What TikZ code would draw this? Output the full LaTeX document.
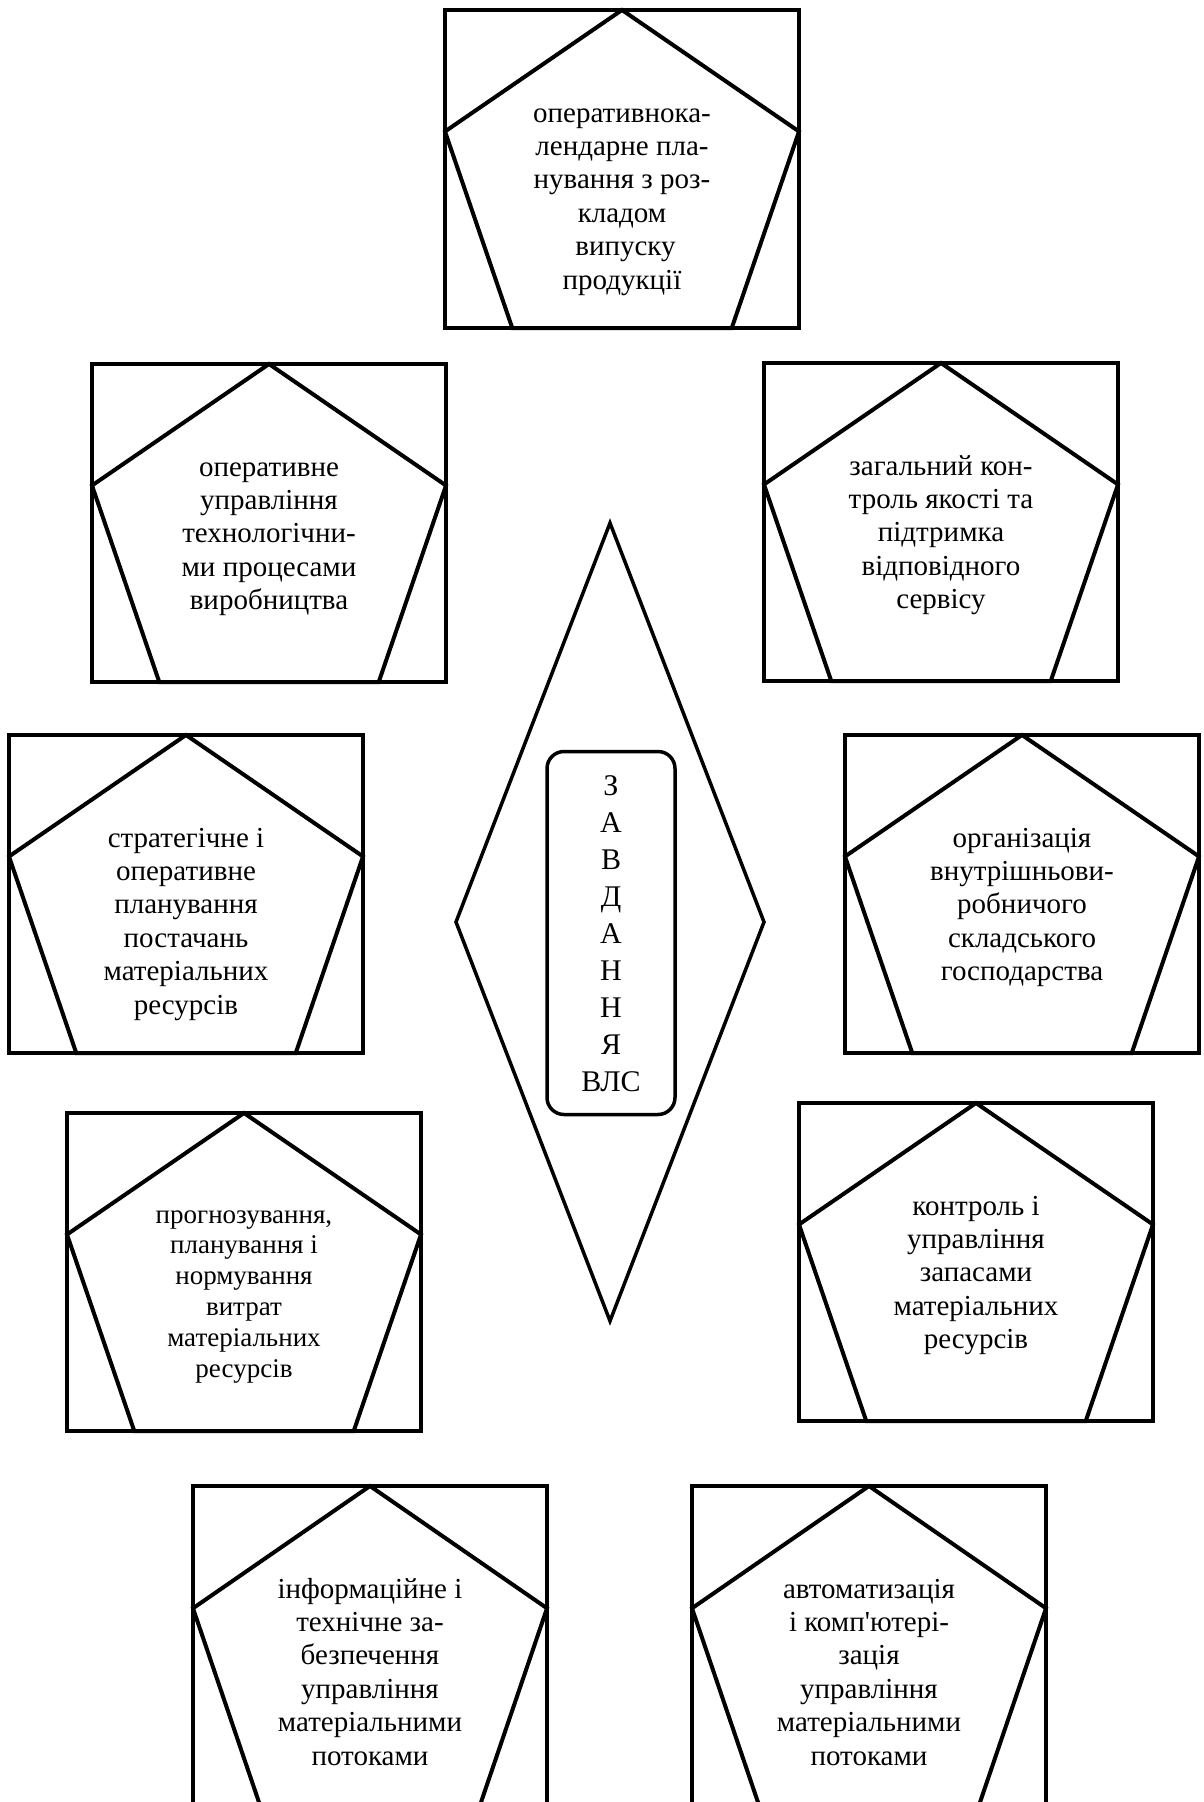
\documentclass[tikz,border=0pt]{standalone}
\usepackage{fontspec}
\setmainfont{Liberation Serif}[Ligatures=TeXOff]
\usetikzlibrary{shapes.geometric,calc}
\tikzset{
  x=1pt, y=-1pt,
  boxframe/.style={draw, line width=4pt, rectangle, inner sep=0pt, outer sep=0pt, minimum width=354pt, minimum height=318pt, anchor=north},
  pent/.style={line width=4pt, line join=miter},
  boxtext/.style={font=\fontsize{29}{33.4}\selectfont, align=center, inner sep=0pt, outer sep=0pt, anchor=north},
  smalltext/.style={font=\fontsize{27}{30.8}\selectfont},
  rhomb/.style={draw, diamond, line width=3.5pt, inner sep=0pt, outer sep=0pt, minimum width=308pt, minimum height=798pt},
  corebox/.style={draw, line width=3.5pt, rounded corners=17pt, rectangle, inner sep=0pt, outer sep=0pt, minimum width=128pt, minimum height=363pt},
  coretext/.style={font=\fontsize{30}{37.1}\selectfont, align=center, inner sep=0pt, outer sep=0pt, anchor=north},
}
% #1 name, #2 centre x, #3 top y, #4 height
\newcommand\penbox[4]{%
  \node[boxframe, minimum height=#4pt] (#1) at (#2,#3) {};
  \draw[pent] (#1.north)
    -- ($(#1.north east)!0.382!(#1.south east)$)
    -- ($(#1.south east)!0.19!(#1.south west)$)
    -- ($(#1.south west)!0.19!(#1.south east)$)
    -- ($(#1.north west)!0.382!(#1.south west)$) -- cycle;
}
\begin{document}
\begin{tikzpicture}
\useasboundingbox (0,0) rectangle (1203,1802);
\clip (0,0) rectangle (1203,1802);
\fill[white] (0,0) rectangle (1203,1802);

\penbox{b1}{622}{10}{318}
\node[boxtext] (b1t) at ($(b1.north)+(0,88)$) {\rule{0pt}{24pt}оперативнока-\\лендарне пла-\\нування з роз-\\кладом\\\hspace*{7pt}випуску\\продукції};

\penbox{b2}{269}{364}{318}
\node[boxtext] (b2t) at ($(b2.north)+(0,88)$) {\rule{0pt}{24pt}оперативне\\управління\\технологічни-\\ми процесами\\виробництва};

\penbox{b3}{941}{363}{318}
\node[boxtext] (b3t) at ($(b3.north)+(0,88)$) {\rule{0pt}{24pt}загальний кон-\\троль якості та\\підтримка\\відповідного\\сервісу};

\penbox{b4}{186}{735}{318}
\node[boxtext] (b4t) at ($(b4.north)+(0,88)$) {\rule{0pt}{24pt}стратегічне і\\оперативне\\планування\\постачань\\матеріальних\\ресурсів};

\penbox{b5}{1022}{735}{318}
\node[boxtext] (b5t) at ($(b5.north)+(0,88)$) {\rule{0pt}{24pt}організація\\внутрішньови-\\робничого\\складського\\господарства};

\penbox{b6}{244}{1113}{318}
\node[boxtext, smalltext] (b6t) at ($(b6.north)+(0,86)$) {\rule{0pt}{24pt}прогнозування,\\планування і\\нормування\\витрат\\матеріальних\\ресурсів};

\penbox{b7}{976}{1103}{318}
\node[boxtext] (b7t) at ($(b7.north)+(0,88)$) {\rule{0pt}{24pt}контроль і\\управління\\запасами\\матеріальних\\ресурсів};

\penbox{b8}{370}{1486}{320}
\node[boxtext] (b8t) at ($(b8.north)+(0,88)$) {\rule{0pt}{24pt}інформаційне і\\технічне за-\\безпечення\\управління\\матеріальними\\потоками};

\penbox{b9}{869}{1486}{320}
\node[boxtext] (b9t) at ($(b9.north)+(0,88)$) {\rule{0pt}{24pt}автоматизація\\і комп'ютері-\\зація\\управління\\матеріальними\\потоками};

\node[rhomb] (dia) at (610,922) {};
\node[corebox] (core) at (611,933) {};
\node[coretext] (coret) at (611,769) {\rule{0pt}{26pt}З\\А\\В\\Д\\А\\Н\\Н\\Я\\ВЛС};
\end{tikzpicture}
\end{document}
